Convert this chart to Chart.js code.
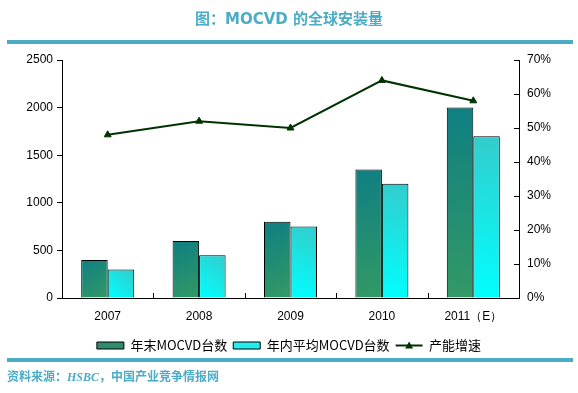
<!DOCTYPE html>
<html>
<head>
<meta charset="utf-8">
<script src="https://cdn.jsdelivr.net/npm/chart.js@4/dist/chart.umd.min.js"></script>
<style>
  html, body { margin: 0; padding: 0; background: #fff; }
  #wrap { position: relative; width: 578px; height: 393px; overflow: hidden; }
  #chartBox { position: absolute; left: 0; top: 0; width: 578px; height: 393px; }
  .title { position: absolute; left: 0; width: 578px; top: 7px; text-align: center;
    font: bold 15px "DejaVu Sans", Verdana, "Noto Sans CJK SC", sans-serif; color: #4BACC6; }
  .rule { position: absolute; left: 7px; width: 566px; height: 4px; background: #4BACC6; }
  .source { position: absolute; left: 7px; top: 367px;
    font: bold 12px "Noto Sans CJK SC", sans-serif; color: #4BACC6; }
  .source i { font-family: "Liberation Serif", serif; }
</style>
</head>
<body>
<div id="wrap">
  <div id="chartBox"><canvas id="mocvdChart" width="578" height="393"></canvas></div>
  <div class="title">图：MOCVD 的全球安装量</div>
  <div class="rule" style="top:40px"></div>
  <div class="rule" style="top:358px"></div>
  <div class="source">资料来源：<i>HSBC</i>，中国产业竞争情报网</div>
</div>
<script>
// data
var years = ['2007', '2008', '2009', '2010', '2011（E）'];
var yearEndUnits = [400, 600, 800, 1350, 2000];
var avgUnits = [300, 450, 750, 1200, 1700];
var capacityGrowth = [48, 52, 50, 64, 58];

var seriesNames = ['年末MOCVD台数', '年内平均MOCVD台数', '产能增速'];
var lineColor = '#003300';

// paint each bar with a diagonal gradient, like the original office chart
var barGradients = {
    id: 'barGradients',
    beforeDatasetsDraw: function (chart) {
        var ctx = chart.ctx;
        [0, 1].forEach(function (di) {
            var meta = chart.getDatasetMeta(di);
            meta.data.forEach(function (bar) {
                var left = bar.x - bar.width / 2, right = bar.x + bar.width / 2;
                var g;
                if (di === 0) {
                    g = ctx.createLinearGradient(left, bar.y, right, bar.base);
                    g.addColorStop(0, '#0f7f82');
                    g.addColorStop(1, '#339966');
                } else {
                    g = ctx.createLinearGradient(left, bar.base, right, bar.y);
                    g.addColorStop(0, '#00ffff');
                    g.addColorStop(1, '#33cccc');
                }
                bar.options.backgroundColor = g;
            });
        });
    },
    afterDraw: function (chart) {
        var ctx = chart.ctx;
        var area = chart.chartArea;
        ctx.save();
        ctx.strokeStyle = '#000';
        ctx.lineWidth = 1;
        // small inward ticks on the right axis
        var y1 = chart.scales.y1;
        y1.ticks.forEach(function (t) {
            var py = Math.round(y1.getPixelForValue(t.value)) + 0.5;
            ctx.beginPath();
            ctx.moveTo(area.right - 5, py);
            ctx.lineTo(area.right, py);
            ctx.stroke();
        });
        // inward ticks between categories on the x axis
        var step = (area.right - area.left) / years.length;
        for (var i = 1; i < years.length; i++) {
            var px = Math.round(area.left + step * i) + 0.5;
            ctx.beginPath();
            ctx.moveTo(px, area.bottom);
            ctx.lineTo(px, area.bottom - 5);
            ctx.stroke();
        }
        // legend marker for the line series: line with a triangle
        var box = chart.legend.legendHitBoxes[2];
        if (box) {
            var cy = box.top + box.height / 2;
            ctx.strokeStyle = lineColor;
            ctx.fillStyle = lineColor;
            ctx.lineWidth = 2;
            ctx.beginPath();
            ctx.moveTo(box.left, cy);
            ctx.lineTo(box.left + 27, cy);
            ctx.stroke();
            var mx = box.left + 13.5;
            ctx.beginPath();
            ctx.moveTo(mx, cy - 4);
            ctx.lineTo(mx + 4, cy + 3);
            ctx.lineTo(mx - 4, cy + 3);
            ctx.closePath();
            ctx.fill();
        }
        ctx.restore();
    }
};

var tickFont = { family: '"Liberation Sans", Arial, sans-serif', size: 12 };

new Chart(document.getElementById('mocvdChart').getContext('2d'), {
    type: 'bar',
    data: {
        labels: years,
        datasets: [
            {
                label: seriesNames[0],
                data: yearEndUnits,
                backgroundColor: function () { return '#1f8a74'; },
                borderColor: '#000',
                borderWidth: 1,
                yAxisID: 'y',
                order: 2
            },
            {
                label: seriesNames[1],
                data: avgUnits,
                backgroundColor: function () { return '#1ae8e8'; },
                borderColor: '#000',
                borderWidth: 1,
                yAxisID: 'y',
                order: 2
            },
            {
                type: 'line',
                label: seriesNames[2],
                data: capacityGrowth,
                borderColor: lineColor,
                backgroundColor: lineColor,
                borderWidth: 2,
                pointStyle: 'triangle',
                pointRadius: 4,
                pointBorderWidth: 1,
                tension: 0,
                yAxisID: 'y1',
                order: 1
            }
        ]
    },
    options: {
        responsive: false,
        animation: false,
        layout: { padding: { top: 60, bottom: 31, left: 0, right: 0 } },
        datasets: { bar: { categoryPercentage: 0.58, barPercentage: 1 } },
        plugins: {
            tooltip: { enabled: false },
            legend: {
                position: 'bottom',
                labels: {
                    font: { family: '"Noto Sans CJK SC", sans-serif', size: 13 },
                    color: '#000',
                    boxWidth: 27,
                    boxHeight: 7,
                    padding: 6,
                    generateLabels: function (chart) {
                        return seriesNames.map(function (name, i) {
                            var fills = ['#2e8b6e', '#22eeee', 'rgba(0,0,0,0)'];
                            return {
                                text: name,
                                fillStyle: fills[i],
                                strokeStyle: i < 2 ? '#000' : 'rgba(0,0,0,0)',
                                lineWidth: i < 2 ? 1 : 0,
                                fontColor: '#000',
                                datasetIndex: i,
                                hidden: false
                            };
                        });
                    }
                }
            }
        },
        scales: {
            x: {
                grid: { display: false },
                border: { color: '#000' },
                ticks: { color: '#000', font: tickFont, padding: 3, maxRotation: 0 },
                afterFit: function (s) { s.height = 35; }
            },
            y: {
                position: 'left',
                min: 0, max: 2500,
                ticks: {
                    stepSize: 500, color: '#000', font: tickFont, padding: 4,
                    callback: function (v) { return String(v); }
                },
                grid: { drawOnChartArea: false, drawTicks: true, tickLength: 5, color: '#000' },
                border: { color: '#000' },
                afterFit: function (s) { s.width = 62; }
            },
            y1: {
                position: 'right',
                min: 0, max: 70,
                ticks: {
                    stepSize: 10, color: '#000', font: tickFont, padding: 8,
                    callback: function (v) { return v + '%'; }
                },
                grid: { drawOnChartArea: false, drawTicks: false },
                border: { color: '#000' },
                afterFit: function (s) { s.width = 59; }
            }
        }
    },
    plugins: [barGradients]
});
</script>
</body>
</html>
